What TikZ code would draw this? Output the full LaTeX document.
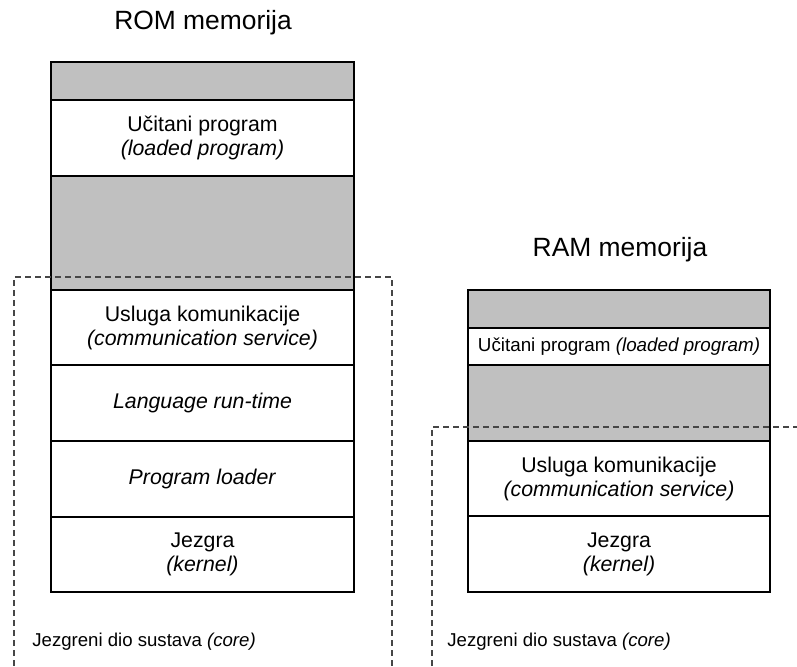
\documentclass[tikz,border=0pt]{standalone}
\usepackage{fontspec}
\setmainfont{Liberation Sans}
\definecolor{memgray}{RGB}{192,192,192}
\definecolor{dashgray}{RGB}{70,70,70}
\tikzset{
  mem/.style={draw=black, line width=1.1pt, inner sep=0pt, align=center,
              font=\fontsize{10.65}{12}\selectfont},
  romw/.style={minimum width=151.5pt},
  ramw/.style={minimum width=151pt},
  freeblk/.style={mem, fill=memgray},
  usedblk/.style={mem, fill=white},
  smalltext/.style={font=\fontsize{9.4}{11}\selectfont},
  coreline/.style={draw=dashgray, line width=0.6pt, dash pattern=on 3pt off 2pt},
  memtitle/.style={font=\fontsize{13.2}{15}\selectfont, inner sep=0pt},
  corelabel/.style={font=\fontsize{9.3}{11}\selectfont, anchor=west, inner sep=0pt},
}
\begin{document}
\begin{tikzpicture}[x=0.5pt,y=-0.5pt]
\useasboundingbox (0,0) rectangle (797,666);

% ROM
\node[memtitle] (romt) at (203,23) {ROM memorija};
\node[freeblk, romw, minimum height=19pt]   (r1) at (202.5,81) {};
\node[usedblk, romw, minimum height=38pt]   (r2) at (202.5,138) {Učitani program\\\textit{(loaded program)}};
\node[freeblk, romw, minimum height=57pt]   (r3) at (202.5,233) {};
\node[usedblk, romw, minimum height=37.5pt] (r4) at (202.5,327.5) {Usluga komunikacije\\\textit{(communication service)}};
\node[usedblk, romw, minimum height=38pt]   (r5) at (202.5,403) {\textit{Language run-time}};
\node[usedblk, romw, minimum height=38pt]   (r6) at (202.5,479) {\textit{Program loader}};
\node[usedblk, romw, minimum height=37.5pt] (r7) at (202.5,554.5) {Jezgra\\\textit{(kernel)}};

% RAM
\node[memtitle] (ramt) at (620,250) {RAM memorija};
\node[freeblk, ramw, minimum height=19pt]   (a1) at (619,309) {};
\node[usedblk, ramw, smalltext, minimum height=18.5pt] (a2) at (619,346.5) {Učitani program \textit{(loaded program)}};
\node[freeblk, ramw, minimum height=38pt]   (a3) at (619,403) {};
\node[usedblk, ramw, minimum height=37.5pt] (a4) at (619,478.5) {Usluga komunikacije\\\textit{(communication service)}};
\node[usedblk, ramw, minimum height=38pt]   (a5) at (619,554) {Jezgra\\\textit{(kernel)}};

% core regions
\coordinate (c1a) at (14,666);
\coordinate (c1b) at (14,277);
\coordinate (c1c) at (392,277);
\coordinate (c1d) at (392,666);
\draw[coreline] (c1a) -- (c1b) -- (c1c) -- (c1d);
\node[corelabel] (l1) at (32,642) {Jezgreni dio sustava \textit{(core)}};

\coordinate (c2a) at (432,666);
\coordinate (c2b) at (432,427);
\coordinate (c2c) at (797,427);
\draw[coreline] (c2a) -- (c2b) -- (c2c);
\node[corelabel] (l2) at (447,642) {Jezgreni dio sustava \textit{(core)}};
\end{tikzpicture}
\end{document}
